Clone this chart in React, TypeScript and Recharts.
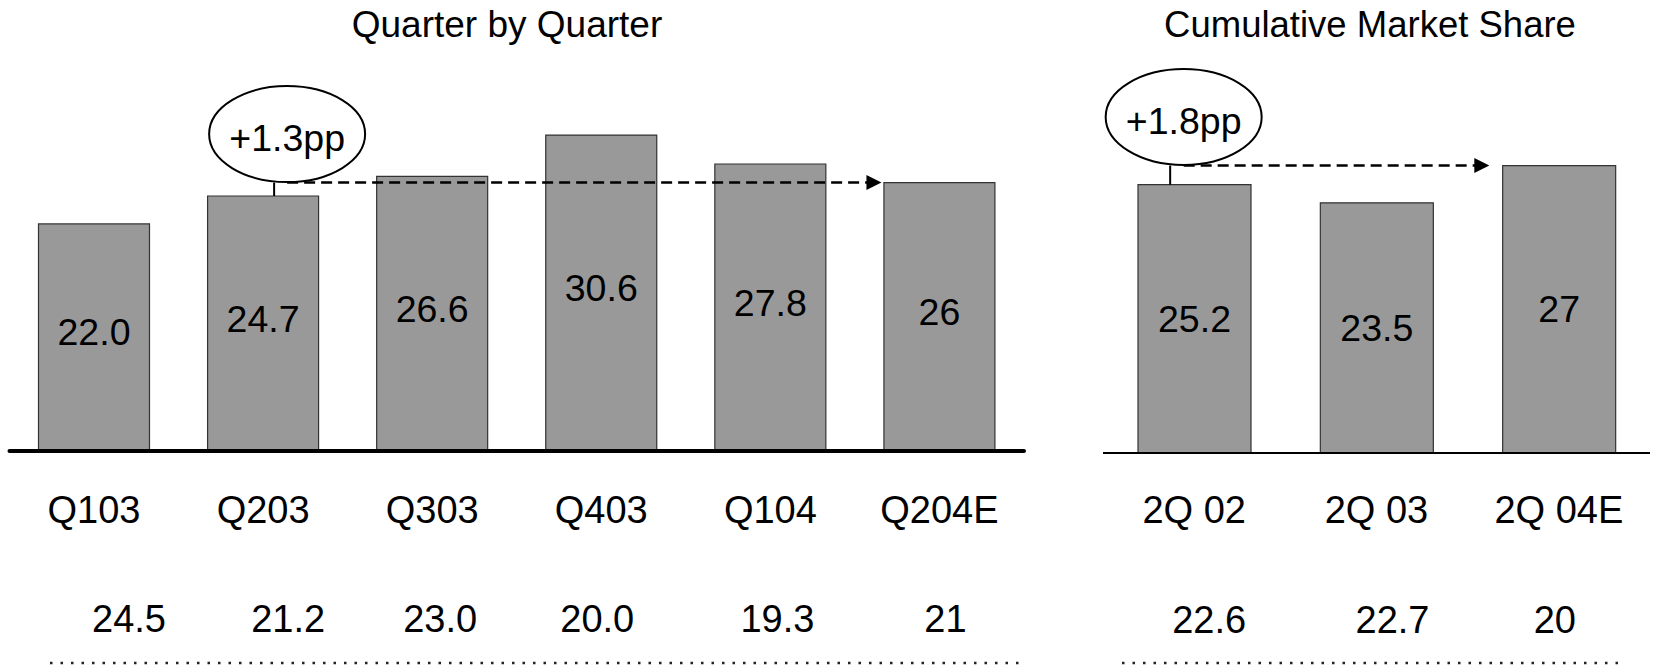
import React from "react";
import { BarChart, Bar, XAxis, YAxis, LabelList, ReferenceLine } from "recharts";

// quarter by quarter share
const quarters = ["Q103", "Q203", "Q303", "Q403", "Q104", "Q204E"];
const quarterShare = [22.0, 24.7, 26.6, 30.6, 27.8, 26];
const quarterSecond = [24.5, 21.2, 23.0, 20.0, 19.3, 21];

// cumulative market share
const periods = ["2Q 02", "2Q 03", "2Q 04E"];
const cumShare = [25.2, 23.5, 27];
const cumSecond = [22.6, 22.7, 20];

// estimates are shown without decimals
const fmt = (v: number, name: string) => (name.endsWith("E") ? String(Math.round(v)) : v.toFixed(1));

const quarterData = quarters.map((name, i) => ({
  name,
  share: quarterShare[i],
  label: fmt(quarterShare[i], name),
  second: fmt(quarterSecond[i], name),
}));

const cumData = periods.map((name, i) => ({
  name,
  share: cumShare[i],
  label: fmt(cumShare[i], name),
  second: fmt(cumSecond[i], name),
}));

const FONT = "'Liberation Sans', Arial, sans-serif";

// little horizontal nudges of the bottom row, as in the slide
const quarterNudge = [35, 25, 8, -4, 7, 6];
const cumNudge = [15, 16, -4];

const makeTick = (data: any[], dy1: number, dy2: number, nudge: number[]) => (props: any) => {
  const { x, y, payload } = props;
  const i = data.findIndex((d) => d.name === payload.value);
  const row = data[i];
  return (
    <g>
      <text x={x} y={y + dy1} textAnchor="middle" fontSize={38} fontFamily={FONT} fill="#000">
        {payload.value}
      </text>
      <text x={x + (nudge[i] || 0)} y={y + dy2} textAnchor="middle" fontSize={38} fontFamily={FONT} fill="#000">
        {row ? row.second : ""}
      </text>
    </g>
  );
};

const makeBarLabel = (lift: number) => (props: any) => {
  const { x, y, width, height, value } = props;
  return (
    <text
      x={x + width / 2}
      y={y + height / 2 - lift}
      textAnchor="middle"
      dominantBaseline="central"
      fontSize={37.5}
      fontFamily={FONT}
      fill="#000"
    >
      {value}
    </text>
  );
};

// dashed arrow + bubble, drawn from the segment end points
const makeCallout = (text: string, ellipseDx: number, halfBar: number, tipGap: number) => (p: any) => {
  const { x1, y1, x2 } = p;
  const rx = 78;
  const ry = 48;
  const cx = x1 + ellipseDx;
  const cy = y1 - ry - 0.5;
  const tip = x2 - halfBar - tipGap;
  return (
    <g>
      <line x1={cx} y1={y1} x2={tip - 14} y2={y1} stroke="#000" strokeWidth={2.5} strokeDasharray="11 6" />
      <polygon points={`${tip},${y1} ${tip - 15},${y1 - 7.5} ${tip - 15},${y1 + 7.5}`} fill="#000" />
      <ellipse cx={cx} cy={cy} rx={rx} ry={ry} fill="#fff" stroke="#000" strokeWidth={2} />
      <text x={cx} y={cy + 17} textAnchor="middle" fontSize={37.5} fontFamily={FONT} fill="#000">
        {text}
      </text>
    </g>
  );
};

const makeConnector = (dx: number) => (p: any) => (
  <line x1={p.x1 + dx} y1={p.y1} x2={p.x2 + dx} y2={p.y2} stroke="#000" strokeWidth={2} />
);

const titleStyle: React.CSSProperties = {
  position: "absolute",
  top: 6,
  fontSize: 37,
  lineHeight: "37px",
  fontFamily: FONT,
  color: "#000",
  whiteSpace: "nowrap",
  transform: "translateX(-50%)",
};

const App = () => {
  return (
    <div
      style={{
        position: "absolute",
        left: 0,
        top: 0,
        width: 1657,
        height: 666,
        background: "#fff",
        overflow: "hidden",
        fontFamily: FONT,
      }}
    >
      <div style={{ ...titleStyle, left: 507 }}>Quarter by Quarter</div>
      <div style={{ ...titleStyle, left: 1370, fontSize: 36.5 }}>Cumulative Market Share</div>

      <div style={{ position: "absolute", left: 0, top: 0 }}>
        <BarChart width={1040} height={666} data={quarterData} margin={{ top: 100, right: 16, left: 9.5, bottom: 0 }}>
          <XAxis
            dataKey="name"
            interval={0}
            height={215}
            tickLine={false}
            tickSize={0}
            tickMargin={0}
            axisLine={{ stroke: "#000", strokeWidth: 4, strokeLinecap: "round" }}
            tick={makeTick(quarterData, 72, 181, quarterNudge)}
          />
          <YAxis hide domain={[0, 34]} />
          <Bar dataKey="share" fill="#999999" stroke="#333" strokeWidth={1.2} barSize={111} isAnimationActive={false}>
            <LabelList dataKey="label" content={makeBarLabel(5)} />
          </Bar>
          <ReferenceLine
            segment={[
              { x: "Q203", y: 24.7 },
              { x: "Q203", y: 26 },
            ]}
            shape={makeConnector(11)}
          />
          <ReferenceLine
            segment={[
              { x: "Q203", y: 26 },
              { x: "Q204E", y: 26 },
            ]}
            shape={makeCallout("+1.3pp", 24, 55.5, 2.5)}
          />
        </BarChart>
      </div>

      <div style={{ position: "absolute", left: 1040, top: 0 }}>
        <BarChart width={617} height={666} data={cumData} margin={{ top: 91, right: 7, left: 63, bottom: 0 }}>
          <XAxis
            dataKey="name"
            interval={0}
            height={213}
            tickLine={false}
            tickSize={0}
            tickMargin={0}
            axisLine={{ stroke: "#000", strokeWidth: 2 }}
            tick={makeTick(cumData, 70, 180, cumNudge)}
          />
          <YAxis hide domain={[0, 34]} />
          <Bar dataKey="share" fill="#999999" stroke="#333" strokeWidth={1.2} barSize={113} isAnimationActive={false}>
            <LabelList dataKey="label" content={makeBarLabel(0)} />
          </Bar>
          <ReferenceLine
            segment={[
              { x: "2Q 02", y: 25.2 },
              { x: "2Q 02", y: 27 },
            ]}
            shape={makeConnector(-24)}
          />
          <ReferenceLine
            segment={[
              { x: "2Q 02", y: 27 },
              { x: "2Q 04E", y: 27 },
            ]}
            shape={makeCallout("+1.8pp", -10.5, 56.5, 13)}
          />
        </BarChart>
      </div>

      <svg width={1657} height={666} style={{ position: "absolute", left: 0, top: 0, pointerEvents: "none" }}>
        <line x1={50} y1={663} x2={1023} y2={663} stroke="#222" strokeWidth={2.5} strokeDasharray="2.5 8" />
        <line x1={1122} y1={663} x2={1626} y2={663} stroke="#222" strokeWidth={2.5} strokeDasharray="2.5 8" />
      </svg>
    </div>
  );
};

export default App;
